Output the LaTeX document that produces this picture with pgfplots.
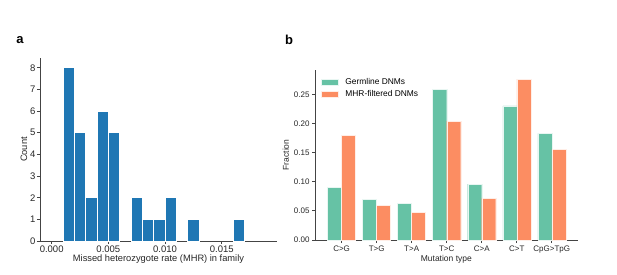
\documentclass[border=0pt]{standalone}
\usepackage{fontspec}
\setmainfont{Liberation Sans}
\usepackage{pgfplots}
\pgfplotsset{compat=1.18}
\definecolor{histblue}{HTML}{1F77B4}
\definecolor{sgreen}{HTML}{66C2A5}
\definecolor{sorange}{HTML}{FC8D62}
\definecolor{spine}{HTML}{444444}
\begin{document}
\begin{tikzpicture}[x=1pt,y=1pt]
\path[use as bounding box] (0,0) rectangle (617,274);
\node[font=\bfseries\fontsize{13}{13}\selectfont] at (20,234) {a};
\node[font=\bfseries\fontsize{13}{13}\selectfont] at (289,234) {b};
\begin{axis}[
  at={(40pt,33pt)}, anchor=south west,
  scale only axis, width=237pt, height=183pt,
  axis lines*=left,
  axis line style={spine, line width=0.8pt},
  tick style={spine, line width=0.8pt},
  tick align=outside, major tick length=3pt,
  xmin=-0.00103, xmax=0.01987, ymin=0, ymax=8.45,
  xtick={0,0.005,0.01,0.015},
  ytick={0,1,...,8},
  scaled x ticks=false,
  xticklabel style={yshift=2pt, /pgf/number format/.cd, fixed, fixed zerofill, precision=3, assume math mode=true},
  yticklabel style={xshift=2pt, /pgf/number format/assume math mode=true},
  tick label style={font=\fontsize{9.5}{10}\selectfont, text=black!85},
  label style={font=\fontsize{9.3}{10}\selectfont, text=black!85},
  xlabel={Missed heterozygote rate (MHR) in family},
  ylabel={Count},
  xlabel style={yshift=4pt},
  ylabel style={yshift=-4pt},
  clip=false,
]
\addplot[ybar, bar width=0.001, bar shift=0pt, fill=histblue, draw=white, line width=0.6pt] coordinates {
(0.0015,8) (0.0025,5) (0.0035,2) (0.0045,6) (0.0055,5)
(0.0075,2) (0.0085,1) (0.0095,1) (0.0105,2) (0.0125,1) (0.0165,1)
};
\end{axis}
\begin{axis}[
  at={(315pt,34pt)}, anchor=south west,
  scale only axis, width=262.7pt, height=170pt,
  axis lines*=left,
  axis line style={spine, line width=0.8pt},
  tick style={spine, line width=0.8pt},
  tick align=outside, major tick length=3pt,
  xmin=-0.76, xmax=6.74, ymin=0, ymax=0.292,
  xtick={0,...,6},
  xticklabels={C>G,T>G,T>A,T>C,C>A,C>T,CpG>TpG},
  ytick={0,0.05,0.1,0.15,0.2,0.25},
  scaled y ticks=false,
  xticklabel style={yshift=1pt},
  yticklabel style={xshift=1pt, /pgf/number format/.cd, fixed, fixed zerofill, precision=2, assume math mode=true},
  tick label style={font=\fontsize{8}{9}\selectfont, text=black!85},
  label style={font=\fontsize{8.5}{9}\selectfont, text=black!85},
  xlabel={Mutation type},
  ylabel={Fraction},
  xlabel style={yshift=4pt},
  ylabel style={yshift=-2pt},
  legend style={at={(axis description cs:0,1)}, anchor=north west, draw=none, fill=none,
    font=\fontsize{8.4}{9}\selectfont, row sep=1pt, xshift=3pt, yshift=-4pt},
  legend image code/.code={\fill[#1] (0pt,-3pt) rectangle (17pt,3pt); \path[draw=none,fill=none] (0pt,0pt) -- (22pt,0pt);},
  legend cell align=left,
  clip=false,
]
\addplot[ybar, bar width=0.4, bar shift=-0.2, fill=sgreen, draw=white!85!sgreen, line width=0.4pt] coordinates {
(0,0.091) (1,0.0704) (2,0.063) (3,0.2586) (4,0.096) (5,0.2305) (6,0.183)
};
\addlegendentry{Germline DNMs}
\addplot[ybar, bar width=0.4, bar shift=0.2, fill=sorange, draw=white!85!sorange, line width=0.4pt] coordinates {
(0,0.180) (1,0.059) (2,0.0475) (3,0.204) (4,0.0715) (5,0.2763) (6,0.156)
};
\addlegendentry{MHR-filtered DNMs}
\end{axis}
\end{tikzpicture}
\end{document}
